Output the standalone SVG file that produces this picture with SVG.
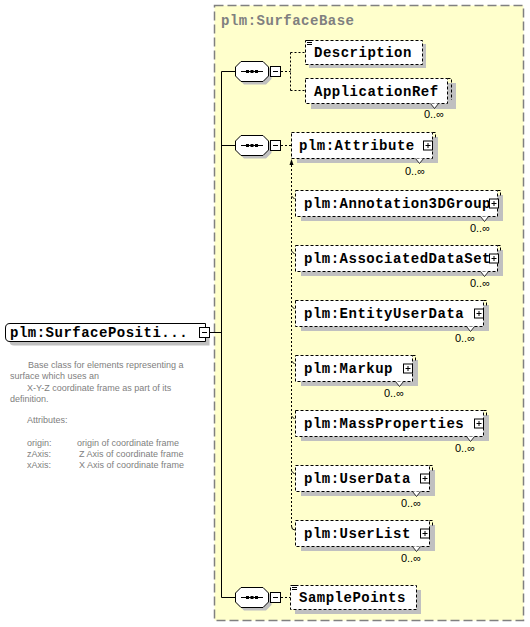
<svg xmlns="http://www.w3.org/2000/svg" width="530" height="627" viewBox="0 0 530 627">
<style>
.bg{fill:#fff}
.grp{fill:#ffffcc;stroke:#808080;stroke-width:1.5;stroke-dasharray:9,4}
.title{font-family:"Liberation Mono",monospace;font-weight:bold;font-size:14px;letter-spacing:0.5px;fill:#808080}
.n{font-family:"Liberation Mono",monospace;font-weight:bold;font-size:14px;letter-spacing:0.5px;fill:#000}
.occ{font-family:"Liberation Sans",sans-serif;font-size:11px;fill:#000;text-anchor:end}
.d{font-family:"Liberation Sans",sans-serif;font-size:9px;fill:#808080}
.sh{fill:#c0c0c0}
.box{fill:#fff;stroke:#000;stroke-width:1;stroke-dasharray:3,2}
.stub{fill:none;stroke:#000;stroke-width:1;stroke-dasharray:3,2}
.solid{fill:#fff;stroke:#000;stroke-width:1}
.ln{fill:none;stroke:#000;stroke-width:1}
.dot{fill:none;stroke:#000;stroke-width:1;stroke-dasharray:2,2}
.notch{fill:#fff;stroke:#000;stroke-width:0.8}
</style>
<defs>
<g id="seq">
<path class="sh" d="M9,3.5 H31 L36.5,9 V18 L31,23.5 H9 L3.5,18 V9 Z"/>
<path class="solid" d="M6,0.5 H28 L33.5,6 V15 L28,20.5 H6 L0.5,15 V6 Z"/>
<path class="ln" d="M6,10.5 H28"/>
<rect x="11" y="9" width="3" height="3" fill="#000"/>
<rect x="15.5" y="9" width="3" height="3" fill="#000"/>
<rect x="20" y="9" width="3" height="3" fill="#000"/>
<rect class="solid" x="35.5" y="5.5" width="10" height="10"/>
<path class="ln" d="M38,10.5 H43"/>
</g>
<g id="plus">
<rect class="solid" x="0.5" y="0.5" width="9" height="9"/>
<path class="ln" d="M2.5,5 H7.5 M5,2.5 V7.5"/>
</g>
<g id="menu">
<path class="ln" d="M0,0.5 H5 M0,2.5 H5 M0,4.5 H5"/>
</g>
</defs>
<rect class="bg" x="0" y="0" width="530" height="627"/>
<rect class="grp" x="214.5" y="5.5" width="309" height="615"/>
<text class="title" x="221" y="25">plm:SurfaceBase</text>

<g id="connectors">
<path class="ln" d="M209.5,332.5 H221.5 M221.5,71.5 V597.5 M221.5,71.5 H235 M221.5,145.5 H235 M221.5,597.5 H235"/>
<path class="dot" d="M281,71.5 H290.5 M290.5,52.5 V90.5 M290.5,52.5 H305 M290.5,90.5 H305"/>
<path class="dot" d="M281,145.5 H291"/>
<path class="dot" d="M291.5,165 V526"/>
<path class="ln" d="M291.5,526 Q291.5,530 295,530"/>
<path d="M291.5,159 L289.5,165 H293.5 Z" fill="#000"/>
<path class="ln" d="M292,157.5 L295.5,154"/>
<path d="M297.5,152 L292.5,153.5 L296,157 Z" fill="#000"/>
<path class="ln" d="M291.5,196 L294.5,199 M291.5,251 L294.5,254 M291.5,306 L294.5,309 M291.5,361 L294.5,364 M291.5,416 L294.5,419 M291.5,471 L294.5,474"/>
<path class="dot" d="M281,597.5 H290.5"/>
</g>

<g id="root">
<path class="sh" d="M14,327.5 H209.5 V345.5 H14 Q9.5,345.5 9.5,341 V332 Q9.5,327.5 14,327.5 Z"/>
<path class="solid" d="M10,323.5 H205.5 V341.5 H10 Q5.5,341.5 5.5,337 V328 Q5.5,323.5 10,323.5 Z"/>
<text class="n" x="10" y="337">plm:SurfacePositi...</text>
<rect class="solid" x="199.5" y="327.5" width="10" height="10"/>
<path class="ln" d="M202,332.5 H207"/>
</g>

<g id="root-doc">
<text class="d" x="28" y="368">Base class for elements representing a</text>
<text class="d" x="10" y="379">surface which uses an</text>
<text class="d" x="27" y="390.5">X-Y-Z coordinate frame as part of its</text>
<text class="d" x="10" y="401.5">definition.</text>
<text class="d" x="27" y="423">Attributes:</text>
<text class="d" x="27" y="445.5">origin:</text>
<text class="d" x="77" y="445.5">origin of coordinate frame</text>
<text class="d" x="27" y="456.5">zAxis:</text>
<text class="d" x="79" y="456.5">Z Axis of coordinate frame</text>
<text class="d" x="27" y="467.5">xAxis:</text>
<text class="d" x="79" y="467.5">X Axis of coordinate frame</text>
</g>

<g id="seq1"><use href="#seq" x="235" y="61"/></g>
<g id="seq2"><use href="#seq" x="235" y="135"/></g>
<g id="seq3"><use href="#seq" x="235" y="587"/></g>

<g id="Description">
<rect class="sh" x="309" y="44" width="117" height="24"/>
<rect class="box" x="305.5" y="40.5" width="117" height="24"/>
<use href="#menu" x="307" y="40"/>
<text class="n" x="314" y="56.5">Description</text>
</g>

<g id="ApplicationRef">
<rect class="sh" x="311" y="83" width="145" height="26"/>
<rect class="box" x="305.5" y="78.5" width="142" height="25"/>
<path class="stub" d="M447.5,78.5 H451.5 V100"/>
<text class="n" x="314" y="95.5">ApplicationRef</text>
<path class="notch" d="M430.5,103.5 L434.5,108.5 L438.5,103.5"/>
<text class="occ" x="444" y="118">0..∞</text>
</g>

<g id="Attribute">
<rect class="sh" x="297" y="137" width="141" height="26"/>
<rect class="box" x="291.5" y="132.5" width="141" height="26"/>
<path class="stub" d="M432.5,132.5 H435.5 V138"/>
<text class="n" x="299" y="149.5">plm:Attribute</text>
<use href="#plus" x="423" y="140.5"/>
<path class="notch" d="M415.5,158.5 L419.5,163.5 L423.5,158.5"/>
<text class="occ" x="425" y="175">0..∞</text>
</g>

<g id="Annotation3DGroup">
<rect class="sh" x="301" y="195" width="202" height="26"/>
<rect class="box" x="295.5" y="190.5" width="202" height="26"/>
<path class="stub" d="M497.5,190.5 H500.5 V196"/>
<text class="n" x="304" y="207.5">plm:Annotation3DGroup</text>
<use href="#plus" x="489" y="198.5"/>
<path class="notch" d="M480.5,216.5 L484.5,221.5 L488.5,216.5"/>
<text class="occ" x="490" y="232">0..∞</text>
</g>

<g id="AssociatedDataSet">
<rect class="sh" x="301" y="250" width="202" height="26"/>
<rect class="box" x="295.5" y="245.5" width="202" height="26"/>
<path class="stub" d="M497.5,245.5 H500.5 V251"/>
<text class="n" x="304" y="262.5">plm:AssociatedDataSet</text>
<use href="#plus" x="489" y="253.5"/>
<path class="notch" d="M480.5,271.5 L484.5,276.5 L488.5,271.5"/>
<text class="occ" x="490" y="287">0..∞</text>
</g>

<g id="EntityUserData">
<rect class="sh" x="301" y="305" width="188" height="26"/>
<rect class="box" x="295.5" y="300.5" width="188" height="26"/>
<path class="stub" d="M483.5,300.5 H486.5 V306"/>
<text class="n" x="304" y="317.5">plm:EntityUserData</text>
<use href="#plus" x="474" y="308.5"/>
<path class="notch" d="M466.5,326.5 L470.5,331.5 L474.5,326.5"/>
<text class="occ" x="475" y="342">0..∞</text>
</g>

<g id="Markup">
<rect class="sh" x="301" y="360" width="117" height="26"/>
<rect class="box" x="295.5" y="355.5" width="117" height="26"/>
<path class="stub" d="M412.5,355.5 H415.5 V361"/>
<text class="n" x="304" y="372.5">plm:Markup</text>
<use href="#plus" x="403" y="363.5"/>
<path class="notch" d="M395.5,381.5 L399.5,386.5 L403.5,381.5"/>
<text class="occ" x="404" y="397">0..∞</text>
</g>

<g id="MassProperties">
<rect class="sh" x="301" y="415" width="188" height="26"/>
<rect class="box" x="295.5" y="410.5" width="188" height="26"/>
<path class="stub" d="M483.5,410.5 H486.5 V416"/>
<text class="n" x="304" y="427.5">plm:MassProperties</text>
<use href="#plus" x="474" y="418.5"/>
<path class="notch" d="M466.5,436.5 L470.5,441.5 L474.5,436.5"/>
<text class="occ" x="475" y="452">0..∞</text>
</g>

<g id="UserData">
<rect class="sh" x="301" y="470" width="134" height="26"/>
<rect class="box" x="295.5" y="465.5" width="134" height="26"/>
<path class="stub" d="M429.5,465.5 H432.5 V471"/>
<text class="n" x="304" y="482.5">plm:UserData</text>
<use href="#plus" x="420" y="473.5"/>
<path class="notch" d="M412.5,491.5 L416.5,496.5 L420.5,491.5"/>
<text class="occ" x="421" y="507">0..∞</text>
</g>

<g id="UserList">
<rect class="sh" x="301" y="525" width="134" height="26"/>
<rect class="box" x="295.5" y="520.5" width="134" height="26"/>
<path class="stub" d="M429.5,520.5 H432.5 V526"/>
<text class="n" x="304" y="537.5">plm:UserList</text>
<use href="#plus" x="420" y="528.5"/>
<path class="notch" d="M412.5,546.5 L416.5,551.5 L420.5,546.5"/>
<text class="occ" x="421" y="562">0..∞</text>
</g>

<g id="SamplePoints">
<rect class="sh" x="295" y="590" width="126" height="24"/>
<rect class="box" x="290.5" y="585.5" width="126" height="24"/>
<use href="#menu" x="292" y="585"/>
<text class="n" x="299" y="602">SamplePoints</text>
</g>
</svg>
